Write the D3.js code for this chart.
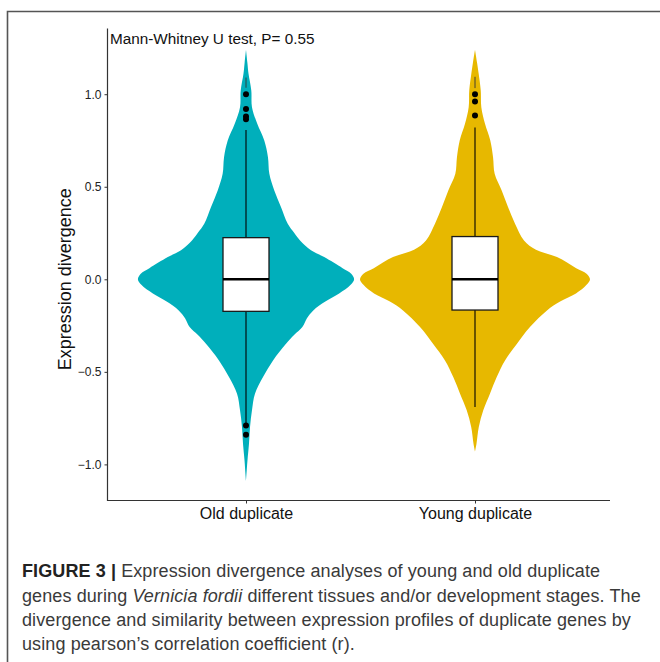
<!DOCTYPE html>
<html>
<head>
<meta charset="utf-8">
<script src="https://cdn.jsdelivr.net/npm/d3@7"></script>
<style>
  html, body { margin: 0; padding: 0; background: #fff; }
  svg { display: block; font-family: "Liberation Sans", Arial, Helvetica, sans-serif; }
</style>
</head>
<body>
<svg id="chart" width="660" height="662"></svg>
<script>
// Groups and colours
const groups = ["Old duplicate", "Young duplicate"];
const fills = ["#00AFBB", "#E7B800"];

// Kernel density outlines: [value, relative density]
const oldDensity = [
  [1.24, 0], [1.17, 0.012], [1.11, 0.022], [1.02, 0.046], [0.93, 0.052],
  [0.84, 0.098], [0.75, 0.159], [0.66, 0.191], [0.57, 0.203], [0.48, 0.246],
  [0.39, 0.304], [0.30, 0.363], [0.25, 0.42], [0.21, 0.47], [0.157, 0.565],
  [0.12, 0.68], [0.06, 0.84], [0.03, 0.915], [0.0, 0.94], [-0.03, 0.91],
  [-0.077, 0.81], [-0.12, 0.69], [-0.168, 0.585], [-0.21, 0.53], [-0.258, 0.49],
  [-0.30, 0.42], [-0.348, 0.348], [-0.438, 0.235], [-0.528, 0.148], [-0.618, 0.078],
  [-0.708, 0.052], [-0.798, 0.035], [-0.888, 0.026], [-0.978, 0.013], [-1.09, 0]
];
const youngDensity = [
  [1.24, 0], [1.17, 0.018], [1.11, 0.032], [1.02, 0.05], [0.93, 0.055],
  [0.84, 0.087], [0.75, 0.133], [0.66, 0.157], [0.57, 0.171], [0.48, 0.232],
  [0.39, 0.287], [0.30, 0.348], [0.21, 0.426], [0.16, 0.53], [0.12, 0.713],
  [0.06, 0.88], [0.03, 0.97], [0.0, 1.0], [-0.03, 0.97], [-0.077, 0.878],
  [-0.12, 0.74], [-0.168, 0.626], [-0.258, 0.478], [-0.348, 0.365], [-0.438, 0.261],
  [-0.528, 0.189], [-0.618, 0.13], [-0.708, 0.072], [-0.798, 0.033], [-0.888, 0.013],
  [-0.93, 0]
];

// Box-plot summaries: [lower whisker, Q1, median, Q3, upper whisker]
const oldBox = [-0.78, -0.173, 0.0, 0.225, 0.807];
const youngBox = [-0.69, -0.166, 0.0, 0.231, 0.82];

// Outlying points
const oldOutliers = [1.0, 0.92, 0.88, 0.865, -0.79, -0.84];
const youngOutliers = [1.0, 0.96, 0.885];

// Short marks above the top outliers
const oldTipMark = [1.035, 1.09];
const youngTipMark = [1.033, 1.094];

const yTicks = [-1.0, -0.5, 0.0, 0.5, 1.0];
const annotation = "Mann-Whitney U test, P= 0.55";
const yTitle = "Expression divergence";

const series = [
  { name: groups[0], fill: fills[0], density: oldDensity, box: oldBox, outliers: oldOutliers, tip: oldTipMark },
  { name: groups[1], fill: fills[1], density: youngDensity, box: youngBox, outliers: youngOutliers, tip: youngTipMark }
];

const svg = d3.select("#chart");

// Outer figure frame (top and left rules)
svg.append("path")
  .attr("d", "M7.5,662 V11.5 H660")
  .attr("fill", "none")
  .attr("stroke", "#555")
  .attr("stroke-width", 1.6);

// Panel geometry
const panel = { left: 107.5, right: 610, top: 28.5, bottom: 500.5 };

const y = d3.scaleLinear().domain([-1.195, 1.355]).range([panel.bottom, panel.top]);
const x = d3.scalePoint().domain(groups).range([246, 475]);
const w = d3.scaleLinear().domain([0, 1]).range([0, 115]);
const boxHalf = 23;

const area = d3.area()
  .curve(d3.curveCatmullRom.alpha(0.5))
  .y(d => y(d[0]));

const plot = svg.append("g");

series.forEach(s => {
  const cx = x(s.name);
  // violin
  plot.append("path")
    .datum(s.density)
    .attr("d", area.x0(d => cx - w(d[1])).x1(d => cx + w(d[1])))
    .attr("fill", s.fill);

  const [lo, q1, med, q3, hi] = s.box;
  // whiskers
  plot.append("line")
    .attr("x1", cx).attr("x2", cx)
    .attr("y1", y(q3)).attr("y2", y(hi))
    .attr("stroke", "#000").attr("stroke-width", 1.1);
  plot.append("line")
    .attr("x1", cx).attr("x2", cx)
    .attr("y1", y(q1)).attr("y2", y(lo))
    .attr("stroke", "#000").attr("stroke-width", 1.1);
  // tip mark
  plot.append("line")
    .attr("x1", cx).attr("x2", cx)
    .attr("y1", y(s.tip[0])).attr("y2", y(s.tip[1]))
    .attr("stroke", "#333").attr("stroke-width", 0.9);
  // box
  plot.append("rect")
    .attr("x", cx - boxHalf).attr("width", boxHalf * 2)
    .attr("y", y(q3)).attr("height", y(q1) - y(q3))
    .attr("fill", "#fff")
    .attr("stroke", "#1a1a1a").attr("stroke-width", 1.3);
  plot.append("line")
    .attr("x1", cx - boxHalf).attr("x2", cx + boxHalf)
    .attr("y1", y(med)).attr("y2", y(med))
    .attr("stroke", "#000").attr("stroke-width", 2.4);
  // outliers
  plot.selectAll(null)
    .data(s.outliers)
    .enter().append("circle")
    .attr("cx", cx).attr("cy", d => y(d))
    .attr("r", 3)
    .attr("fill", "#000");
});

// Axes
const yAxis = d3.axisLeft(y).tickValues(yTicks).tickFormat(d3.format(".1f")).tickSize(3).tickPadding(3);
const gy = svg.append("g").attr("transform", `translate(${panel.left},0)`).call(yAxis);
gy.select(".domain").remove();
gy.selectAll(".tick line").attr("stroke", "#333");
gy.selectAll(".tick text").attr("font-size", 12).attr("fill", "#222")
  .attr("font-family", "Liberation Sans, Arial, sans-serif")
  .text(d => d3.format(".1f")(d).replace("-", "\u2212"));

const xAxis = d3.axisBottom(x).tickSize(3).tickPadding(4);
const gx = svg.append("g").attr("transform", `translate(0,${panel.bottom})`).call(xAxis);
gx.select(".domain").remove();
gx.selectAll(".tick line").attr("stroke", "#333");
gx.selectAll(".tick text").attr("font-size", 16).attr("fill", "#111")
  .attr("font-family", "Liberation Sans, Arial, sans-serif");

// Axis lines
svg.append("path")
  .attr("d", `M${panel.left},${panel.top} V${panel.bottom} H${panel.right}`)
  .attr("fill", "none")
  .attr("stroke", "#333")
  .attr("stroke-width", 1.2);

// Y title
svg.append("text")
  .attr("transform", `translate(71,${y(0)}) rotate(-90)`)
  .attr("text-anchor", "middle")
  .attr("font-size", 18)
  .attr("fill", "#111")
  .text(yTitle);

// Test annotation
svg.append("text")
  .attr("x", 110).attr("y", 44)
  .attr("font-size", 15.3)
  .attr("fill", "#111")
  .text(annotation);

// Caption
const cap = svg.append("g").attr("font-size", 18).attr("fill", "#3a3a3a")
  .attr("letter-spacing", 0.1)
  .attr("font-family", "Liberation Sans, Arial, sans-serif");
const l1 = cap.append("text").attr("x", 22).attr("y", 577);
l1.append("tspan").attr("font-weight", "bold").attr("fill", "#222").text("FIGURE 3 | ");
l1.append("tspan").text("Expression divergence analyses of young and old duplicate");
const l2 = cap.append("text").attr("x", 22).attr("y", 602);
l2.append("tspan").text("genes during ");
l2.append("tspan").attr("font-style", "italic").text("Vernicia fordii");
l2.append("tspan").text(" different tissues and/or development stages. The");
cap.append("text").attr("x", 22).attr("y", 626)
  .text("divergence and similarity between expression profiles of duplicate genes by");
cap.append("text").attr("x", 22).attr("y", 650)
  .text("using pearson\u2019s correlation coefficient (r).");
</script>
</body>
</html>
